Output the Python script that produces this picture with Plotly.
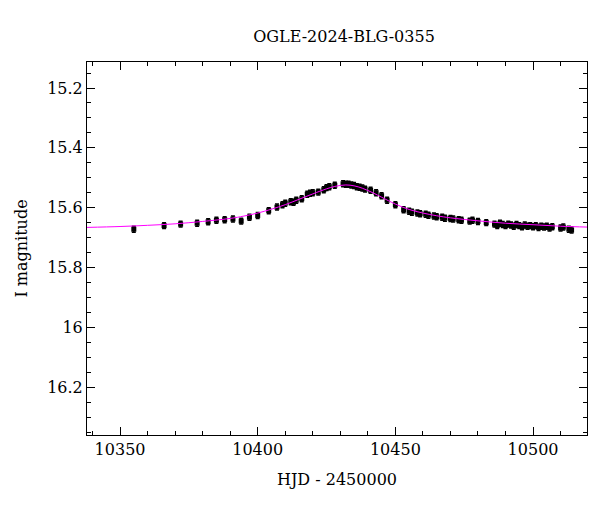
import plotly.graph_objects as go

hjd = [10355,10366,10372,10378,10382,10385,10388,10391,10394,10397,10400,10404,10407,10409,10410,10412,10413,10414,10416,10418,10419,10420,10422,10424,10425,10426,10428,10431,10432,10433,10434,10435,10436,10437,10438,10439,10441,10443,10445,10447,10450,10453,10455,10456,10458,10459,10461,10462,10464,10465,10467,10468,10470,10471,10473,10474,10477,10478,10480,10483,10486,10487,10488,10489,10490,10491,10492,10493,10494,10495,10496,10497,10498,10499,10500,10501,10502,10503,10504,10505,10506,10507,10510,10511,10513,10514]
mag = [15.672,15.66,15.655,15.652,15.647,15.642,15.64,15.638,15.645,15.632,15.626,15.61,15.598,15.59,15.585,15.58,15.582,15.575,15.57,15.555,15.552,15.55,15.548,15.54,15.533,15.53,15.525,15.52,15.522,15.522,15.524,15.526,15.53,15.532,15.534,15.538,15.542,15.55,15.56,15.575,15.59,15.607,15.612,15.615,15.618,15.62,15.622,15.625,15.628,15.63,15.632,15.635,15.636,15.638,15.64,15.642,15.645,15.642,15.646,15.65,15.655,15.66,15.652,15.656,15.66,15.655,15.658,15.662,15.656,15.66,15.664,15.658,15.662,15.66,15.664,15.66,15.666,15.662,15.665,15.662,15.668,15.664,15.668,15.665,15.672,15.675]
err = [0.01]*len(hjd)

model_x = [10338,10350,10360,10370,10380,10390,10395,10400,10405,10410,10415,10420,10425,10428,10432,10435,10438,10442,10445,10450,10455,10460,10465,10470,10480,10490,10500,10510,10520]
model_y = [15.666,15.663,15.659,15.654,15.646,15.636,15.628,15.618,15.605,15.59,15.572,15.554,15.537,15.529,15.524,15.527,15.535,15.551,15.565,15.588,15.606,15.618,15.627,15.634,15.644,15.652,15.657,15.662,15.665]

fig = go.Figure()
fig.add_trace(go.Scatter(x=hjd, y=mag, mode="markers",
    marker=dict(color="black", size=5, symbol="square"),
    error_y=dict(type="data", array=err, color="black", thickness=1.5, width=2)))
fig.add_trace(go.Scatter(x=model_x, y=model_y, mode="lines", line=dict(color="magenta", width=1, shape="spline")))

ax = dict(showline=True, mirror="ticks", linecolor="black", linewidth=1, ticks="inside",
          ticklen=8, tickcolor="black", showgrid=False, zeroline=False,
          minor=dict(ticks="inside", ticklen=4, tickcolor="black"),
          tickfont=dict(size=16, color="black"))
fig.update_layout(
    width=600, height=512, plot_bgcolor="white", paper_bgcolor="white",
    showlegend=False, font=dict(family="DejaVu Serif", color="black"),
    title=dict(text="OGLE-2024-BLG-0355", x=0.56, xanchor="center", y=0.955, font=dict(size=16)),
    margin=dict(l=79, r=21, t=54, b=85),
    xaxis=dict(**ax, range=[10338, 10519.6], tickvals=[10350,10400,10450,10500], tickformat="d",
               title=dict(text="HJD - 2450000", font=dict(size=16))),
    yaxis=dict(**ax, range=[16.36, 15.113], dtick=0.2, tickformat="~g",
               title=dict(text="I magnitude", font=dict(size=16))),
)
fig.update_xaxes(minor=dict(dtick=10))
fig.update_yaxes(minor=dict(dtick=0.05))
fig.write_html("out.html")
